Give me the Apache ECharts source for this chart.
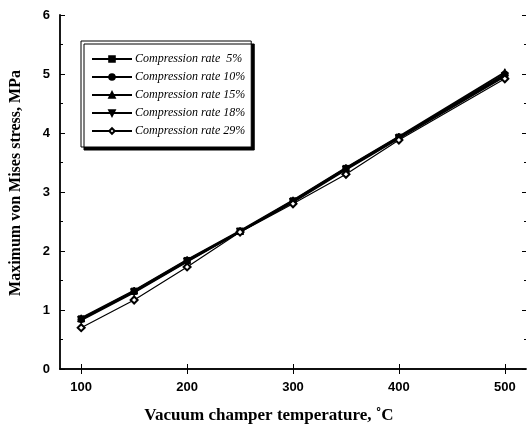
<!DOCTYPE html>
<html>
<head>
<meta charset="utf-8">
<script src="https://cdn.jsdelivr.net/npm/echarts@6/dist/echarts.min.js"></script>
<style>
  html, body { margin: 0; padding: 0; background: #fff; }
</style>
</head>
<body>
<div id="main" style="width:527px;height:429px;"></div>
<script>
// temperatures, degC
const temps = [100, 150, 200, 250, 300, 350, 400, 500];
const xTicks = [100, 200, 300, 400, 500];

const seriesNames = [
    'Compression rate  5%',
    'Compression rate 10%',
    'Compression rate 15%',
    'Compression rate 18%',
    'Compression rate 29%'
];
// max von Mises stress, MPa
const rate5 = [0.85, 1.32, 1.84, 2.33, 2.85, 3.40, 3.93, 4.98];
const rate10 = [0.84, 1.31, 1.83, 2.33, 2.84, 3.39, 3.92, 5.00];
const rate15 = [0.86, 1.33, 1.85, 2.34, 2.86, 3.41, 3.94, 5.03];
const rate18 = [0.83, 1.30, 1.82, 2.33, 2.83, 3.38, 3.91, 4.96];
const rate29 = [0.70, 1.17, 1.73, 2.32, 2.80, 3.30, 3.88, 4.92];

const allValues = [rate5, rate10, rate15, rate18, rate29];
const symbols = ['rect', 'circle', 'triangle', 'path://M0,0 L10,0 L5,9 Z', 'emptyDiamond'];
const symbolSizes = [6, 6, 7, 7, 7];

let myChart = echarts.init(document.getElementById('main'));

const boldSans = 'Liberation Sans, Arial, sans-serif';
const boldSerif = 'Liberation Serif, Times New Roman, serif';

myChart.setOption({
    animation: false,
    backgroundColor: '#fff',
    grid: { left: 58, right: 1, top: 15, bottom: 58 },
    legend: {
        orient: 'vertical',
        left: 81,
        top: 41,
        itemWidth: 40,
        itemHeight: 7,
        itemGap: 6,
        padding: [12, 6, 10, 10],
        backgroundColor: '#fff',
        borderColor: '#000',
        borderWidth: 1,
        borderRadius: 0,
        shadowColor: '#000',
        shadowBlur: 0,
        shadowOffsetX: 3,
        shadowOffsetY: 3,
        textStyle: {
            fontFamily: boldSerif,
            fontStyle: 'italic',
            fontSize: 12,
            color: '#000',
            padding: [0, 0, 0, -2]
        },
        data: seriesNames
    },
    xAxis: [
        {
            type: 'value',
            min: 80,
            max: 520,
            name: 'Vacuum champer temperature, ˚C',
            nameLocation: 'middle',
            nameGap: 38,
            nameTextStyle: {
                fontFamily: boldSerif,
                fontWeight: 'bold',
                fontSize: 17,
                color: '#000',
                padding: [0, 48, 0, 0]
            },
            splitLine: { show: false },
            axisLine: { lineStyle: { color: '#000', width: 1.5 } },
            axisTick: { inside: true, length: 5, customValues: xTicks, lineStyle: { color: '#000' } },
            axisLabel: {
                customValues: xTicks,
                margin: 12,
                fontFamily: boldSans,
                fontWeight: 'bold',
                fontSize: 13,
                color: '#000'
            }
        },
        {
            type: 'value',
            position: 'top',
            min: 80,
            max: 520,
            splitLine: { show: false },
            axisLine: { show: true, lineStyle: { color: '#000', width: 1.5 } },
            axisTick: { inside: true, length: 5, customValues: xTicks, lineStyle: { color: '#000' } },
            axisLabel: { show: false }
        }
    ],
    yAxis: [
        {
            type: 'value',
            min: 0,
            max: 6,
            interval: 1,
            name: 'Maximum von Mises stress, MPa',
            nameLocation: 'middle',
            nameGap: 36,
            nameTextStyle: {
                fontFamily: boldSerif,
                fontWeight: 'bold',
                fontSize: 16,
                color: '#000',
                padding: [0, 0, 0, 18]
            },
            splitLine: { show: false },
            axisLine: { show: true, lineStyle: { color: '#000', width: 1.8 } },
            axisTick: { inside: true, length: 5, lineStyle: { color: '#000' } },
            minorTick: { show: true, splitNumber: 2, length: 3, lineStyle: { color: '#000' } },
            axisLabel: {
                margin: 10,
                fontFamily: boldSans,
                fontWeight: 'bold',
                fontSize: 13,
                color: '#000'
            }
        },
        {
            type: 'value',
            position: 'right',
            min: 0,
            max: 6,
            interval: 1,
            splitLine: { show: false },
            axisLine: { show: false },
            axisTick: { show: true, inside: true, length: 4, lineStyle: { color: '#000' } },
            minorTick: { show: true, splitNumber: 2, length: 2, lineStyle: { color: '#000' } },
            axisLabel: { show: false }
        }
    ],
    series: seriesNames.map((name, i) => ({
        name: name,
        type: 'line',
        data: temps.map((t, j) => [t, allValues[i][j]]),
        symbol: symbols[i],
        symbolSize: symbolSizes[i],
        showAllSymbol: true,
        itemStyle: { color: '#000', borderColor: '#000', borderWidth: 1 },
        lineStyle: { color: '#000', width: i === 4 ? 1.2 : 2 }
    }))
});
</script>
</body>
</html>
